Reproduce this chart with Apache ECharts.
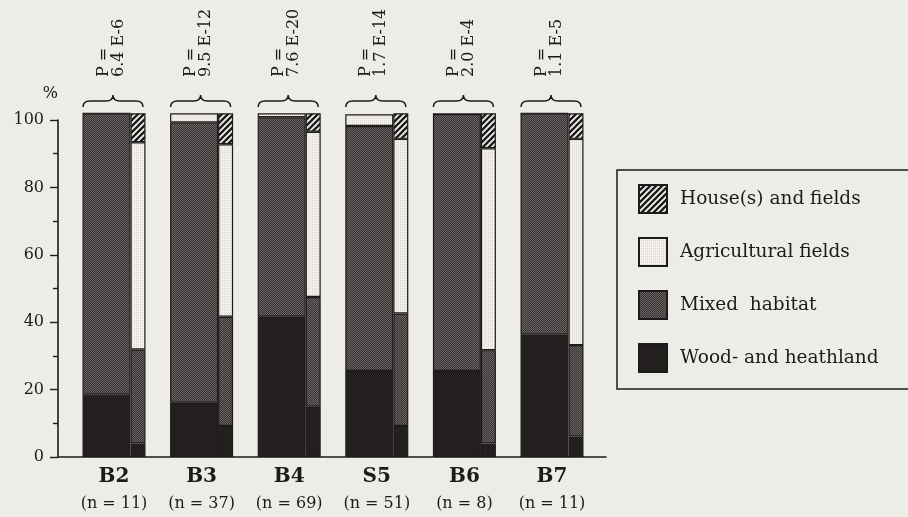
<!DOCTYPE html>
<html><head><meta charset="utf-8">
<script src="https://cdn.jsdelivr.net/npm/echarts@6/dist/echarts.min.js"></script>
<style>html,body{margin:0;padding:0;background:#eeece6;} #c{width:908px;height:517px;}</style>
</head><body><div id="c"></div>
<script>
// ---- data ----
const categories = ['B2', 'B3', 'B4', 'S5', 'B6', 'B7'];
const sampleSizes = [11, 37, 69, 51, 8, 11];
const pValues = ['6.4 E-6', '9.5 E-12', '7.6 E-20', '1.7 E-14', '2.0 E-4', '1.1 E-5'];
const yTicks = [0, 20, 40, 60, 80, 100];

// wide bar (left) of each group, % per segment
const woodWide  = [18.5, 16.1, 41.6, 25.5, 25.5, 36.4];
const mixedWide = [83.5, 83.2, 59.2, 72.7, 76.3, 65.6];
const agriWide  = [0, 2.7, 1.2, 3.5, 0, 0];

// narrow bar (right) of each group, % per segment
const woodNarrow  = [4.0, 9.2, 14.9, 9.2, 4.0, 6.1];
const mixedNarrow = [27.9, 32.4, 32.6, 33.4, 27.7, 27.1];
const agriNarrow  = [61.5, 51.2, 49.0, 51.8, 59.9, 61.2];
const houseNarrow = [8.6, 9.2, 5.5, 7.6, 10.4, 7.6];

const legendNames = ['House(s) and fields', 'Agricultural fields', 'Mixed  habitat', 'Wood- and heathland'];

// ---- styles ----
const INK = '#1c1a1a';
const FONT = '"DejaVu Serif", "Liberation Serif", serif';
function pattern(size, draw) {
  const c = document.createElement('canvas');
  c.width = size; c.height = size;
  draw(c.getContext('2d'), size);
  return { image: c, repeat: 'repeat' };
}
const woodFill = pattern(2, g => { g.fillStyle = '#1b1818'; g.fillRect(0,0,2,2); g.fillStyle = '#2b2727'; g.fillRect(0,0,1,1); g.fillRect(1,1,1,1); });
const mixedFill = pattern(2, g => { g.fillStyle = '#353131'; g.fillRect(0,0,2,2); g.fillStyle = '#6c6767'; g.fillRect(0,0,1,1); g.fillRect(1,1,1,1); });
const agriFill = pattern(2, g => { g.fillStyle = '#f2f0eb'; g.fillRect(0,0,2,2); g.fillStyle = '#dcd8d1'; g.fillRect(0,0,1,1); });
const houseFill = pattern(6, (g, s) => {
  g.fillStyle = '#f2f0eb'; g.fillRect(0,0,s,s);
  g.strokeStyle = INK; g.lineWidth = 2.3; g.beginPath();
  g.moveTo(-1, s+1); g.lineTo(s+1, -1);
  g.moveTo(-1, 1); g.lineTo(1, -1);
  g.moveTo(s-1, s+1); g.lineTo(s+1, s-1);
  g.stroke();
});

function bar(name, data, stack, width, fill) {
  return {
    type: 'bar', name, data, stack, barWidth: width, barGap: 0,
    xAxisIndex: 1, yAxisIndex: 1, clip: false, silent: true,
    itemStyle: { color: fill, borderColor: INK, borderWidth: 1.2 },
    emphasis: { disabled: true }
  };
}

const chart = echarts.init(document.getElementById('c'), null, { renderer: 'canvas' });
chart.setOption({
  animation: false,
  backgroundColor: '#eeece6',
  textStyle: { fontFamily: FONT, color: INK },
  grid: [
    { left: 58, width: 548, top: 120, height: 337 },
    { left: 70.2, width: 525.6, top: 120, height: 337 }
  ],
  xAxis: [
    { gridIndex: 0, type: 'value', min: 0, max: 1, axisLabel: { show: false }, axisTick: { show: false },
      splitLine: { show: false }, axisLine: { lineStyle: { color: INK, width: 1.6 } } },
    { gridIndex: 1, type: 'category', data: categories, axisLine: { show: false }, axisTick: { show: false },
      axisLabel: {
        margin: 8, interval: 0,
        formatter: (v) => '{b|' + v + '}\n{n|(n = ' + sampleSizes[categories.indexOf(v)] + ')}',
        rich: {
          b: { fontFamily: FONT, fontWeight: 'bold', fontSize: 20, lineHeight: 24, color: INK },
          n: { fontFamily: FONT, fontSize: 16, lineHeight: 30, color: INK }
        }
      } }
  ],
  yAxis: [
    { gridIndex: 0, type: 'value', min: 0, max: 100, interval: 20,
      name: '%', nameLocation: 'end', nameGap: 18,
      nameTextStyle: { fontFamily: FONT, fontSize: 16, color: INK, align: 'right' },
      axisLine: { show: true, lineStyle: { color: INK, width: 1.6 } },
      axisTick: { show: true, length: 8, lineStyle: { color: INK, width: 1.4 } },
      minorTick: { show: true, splitNumber: 2, length: 5, lineStyle: { color: INK, width: 1.4 } },
      splitLine: { show: false },
      axisLabel: { margin: 14, fontFamily: FONT, fontSize: 16, color: INK,
        formatter: v => (yTicks.indexOf(v) >= 0 ? String(v) : '') } },
    { gridIndex: 1, type: 'value', min: 0, max: 100, show: false }
  ],
  legend: {
    data: legendNames, orient: 'vertical', left: 617, top: 170,
    padding: [14, 300, 16, 21], itemWidth: 28, itemHeight: 28, itemGap: 23,
    borderColor: INK, borderWidth: 1.5, icon: 'rect',
    selectedMode: false,
    textStyle: { fontFamily: FONT, fontSize: 18.5, color: INK, padding: [0, 0, 0, 8] }
  },
  series: [
    bar(legendNames[3], woodWide, 'wide', 48, woodFill),
    bar(legendNames[2], mixedWide, 'wide', 48, mixedFill),
    bar(legendNames[1], agriWide, 'wide', 48, agriFill),
    bar(legendNames[3], woodNarrow, 'narrow', 15, woodFill),
    bar(legendNames[2], mixedNarrow, 'narrow', 15, mixedFill),
    bar(legendNames[1], agriNarrow, 'narrow', 15, agriFill),
    bar(legendNames[0], houseNarrow, 'narrow', 15, houseFill),
    {
      type: 'custom', xAxisIndex: 1, yAxisIndex: 1, clip: false, silent: true,
      data: categories.map((c, i) => [i]),
      renderItem: (params, api) => {
        const i = params.dataIndex;
        const p = api.coord([api.value(0), 100]);
        const cx = p[0] - 1, y = p[1];
        const half = 30, r = 7;
        const x0 = cx - half, x1 = cx + half;
        const yb = y - 13, ym = y - 19, yt = y - 25;
        const d = `M${x0},${yb} Q${x0},${ym} ${x0 + r},${ym} L${cx - r},${ym} Q${cx},${ym} ${cx},${yt} ` +
                  `Q${cx},${ym} ${cx + r},${ym} L${x1 - r},${ym} Q${x1},${ym} ${x1},${yb}`;
        return {
          type: 'group',
          children: [
            { type: 'path', shape: { pathData: d }, style: { fill: null, stroke: INK, lineWidth: 1.5 } },
            { type: 'text', x: cx - 2, y: y - 43, rotation: Math.PI / 2,
              style: { text: 'P =\n' + pValues[i], font: '16px ' + FONT, fill: INK,
                       align: 'left', verticalAlign: 'middle', lineHeight: 15 } }
          ]
        };
      }
    }
  ]
});
</script>
</body></html>
